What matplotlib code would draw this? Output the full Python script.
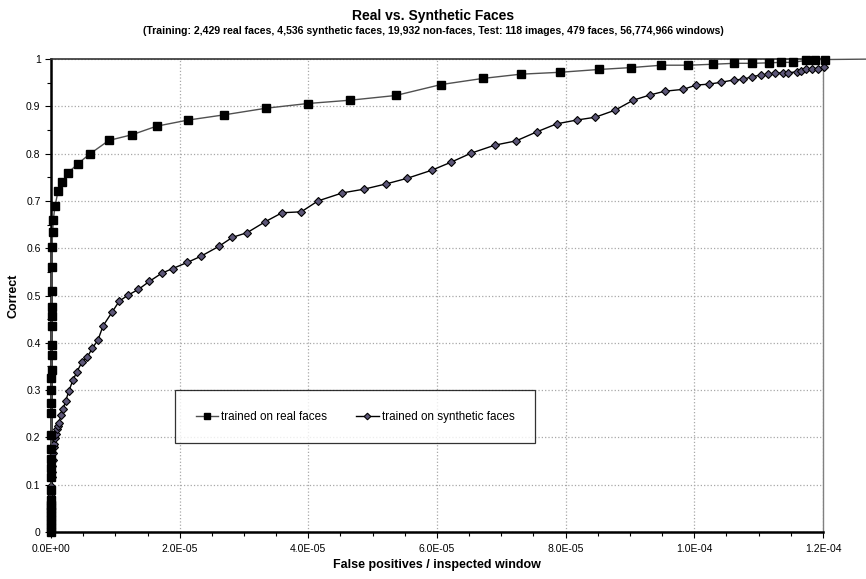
import numpy as np
import matplotlib
matplotlib.use('Agg')
from matplotlib import pyplot as plt
from matplotlib.ticker import MultipleLocator, FuncFormatter

plt.rcParams['font.family'] = ['Liberation Sans', 'DejaVu Sans']

# false positives per window (units of 1e-5) and detection rate
real_fp = [0.0, 0.0, 0.0, 0.0, 0.0, 0.0, 0.0, 0.0, 0.0, 0.0, 0.002, 0.002, 0.003,
           0.004, 0.005, 0.006, 0.006, 0.007, 0.007, 0.008, 0.008, 0.009, 0.01, 0.01,
           0.01, 0.012, 0.012, 0.014, 0.026, 0.036, 0.062, 0.11, 0.17, 0.27, 0.42,
           0.61, 0.90, 1.26, 1.64, 2.13, 2.69, 3.34, 3.99, 4.65, 5.36, 6.06, 6.71,
           7.30, 7.91, 8.52, 9.02, 9.49, 9.90, 10.29, 10.62, 10.90, 11.16, 11.34,
           11.53, 11.73, 11.88, 12.03, 12.8]
real_rate = [0.0, 0.008, 0.017, 0.025, 0.033, 0.042, 0.05, 0.058, 0.068, 0.089,
             0.117, 0.135, 0.154, 0.175, 0.205, 0.252, 0.273, 0.300, 0.325, 0.342,
             0.374, 0.395, 0.436, 0.457, 0.476, 0.51, 0.56, 0.603, 0.635, 0.66,
             0.689, 0.721, 0.739, 0.76, 0.779, 0.80, 0.828, 0.84, 0.858, 0.871,
             0.882, 0.896, 0.906, 0.913, 0.923, 0.946, 0.959, 0.968, 0.972, 0.978,
             0.982, 0.987, 0.987, 0.989, 0.991, 0.991, 0.992, 0.993, 0.993, 0.997,
             0.999, 0.999, 1.0]

synth_fp = [0.0, 0.0, 0.0, 0.0, 0.0, 0.0, 0.001, 0.001, 0.001, 0.002, 0.002, 0.004,
            0.006, 0.011, 0.016, 0.02, 0.026, 0.036, 0.047, 0.051, 0.067, 0.078,
            0.098, 0.11, 0.124, 0.155, 0.19, 0.23, 0.28, 0.34, 0.40, 0.48, 0.56,
            0.64, 0.73, 0.81, 0.95, 1.06, 1.20, 1.36, 1.53, 1.72, 1.89, 2.12, 2.33,
            2.61, 2.82, 3.05, 3.33, 3.59, 3.89, 4.15, 4.53, 4.87, 5.21, 5.54, 5.92,
            6.22, 6.53, 6.90, 7.23, 7.55, 7.86, 8.17, 8.46, 8.77, 9.05, 9.31, 9.54,
            9.83, 10.03, 10.23, 10.42, 10.62, 10.76, 10.90, 11.03, 11.15, 11.26,
            11.38, 11.46, 11.59, 11.66, 11.74, 11.83, 11.92, 12.01]
synth_rate = [0.003, 0.01, 0.017, 0.024, 0.031, 0.038, 0.045, 0.052, 0.06, 0.068,
              0.077, 0.085, 0.097, 0.117, 0.127, 0.14, 0.152, 0.166, 0.179, 0.186,
              0.198, 0.207, 0.217, 0.225, 0.231, 0.247, 0.261, 0.278, 0.299, 0.321,
              0.338, 0.359, 0.369, 0.388, 0.406, 0.436, 0.465, 0.488, 0.501, 0.513,
              0.530, 0.547, 0.557, 0.570, 0.583, 0.604, 0.623, 0.633, 0.656, 0.675,
              0.677, 0.700, 0.717, 0.725, 0.736, 0.748, 0.765, 0.782, 0.801, 0.818,
              0.827, 0.846, 0.863, 0.871, 0.877, 0.892, 0.913, 0.924, 0.932, 0.936,
              0.945, 0.947, 0.951, 0.956, 0.957, 0.963, 0.966, 0.968, 0.970, 0.971,
              0.971, 0.973, 0.975, 0.978, 0.980, 0.980, 0.983]

real_fp = np.array(real_fp) * 1e-5
synth_fp = np.array(synth_fp) * 1e-5

fig = plt.figure(figsize=(8.66, 5.79), dpi=100)
ax = fig.add_axes([0.0589, 0.0812, 0.8914, 0.8168])

ax.plot(synth_fp, synth_rate, color='black', lw=1.0, marker='D', ms=4.2,
        mfc='#5c5677', mec='black', mew=0.8, label='trained on synthetic faces',
        zorder=3, clip_on=False)
ax.plot(real_fp, real_rate, color='#505050', lw=1.0, marker='s', ms=5.8,
        mfc='black', mec='black', markevery=list(range(len(real_fp) - 1)),
        label='trained on real faces', zorder=4, clip_on=False)

ax.set_xlim(0, 1.2e-4)
ax.set_ylim(0, 1)
ax.xaxis.set_major_locator(MultipleLocator(2e-5))
ax.xaxis.set_minor_locator(MultipleLocator(5e-6))
ax.yaxis.set_major_locator(MultipleLocator(0.1))
ax.yaxis.set_minor_locator(MultipleLocator(0.05))
ax.xaxis.set_major_formatter(FuncFormatter(lambda v, p: '%.1E' % v))
ax.yaxis.set_major_formatter(FuncFormatter(lambda v, p: '%g' % round(v, 1)))
ax.tick_params(which='both', direction='out', labelsize=7.5, colors='black')
ax.tick_params(which='major', length=4, width=0.8)
ax.tick_params(which='minor', length=3, width=0.8)
ax.tick_params(axis='x', pad=5)

ax.grid(True, which='major', color='#a8a8a8', ls=':', lw=0.9)
ax.set_axisbelow(True)
ax.spines['left'].set_linewidth(1.8)
ax.spines['bottom'].set_linewidth(1.8)
ax.spines['top'].set_color('#333333')
ax.spines['top'].set_linewidth(1.2)
ax.spines['right'].set_color('#808080')
ax.spines['right'].set_linewidth(1.0)

ax.set_xlabel('False positives / inspected window', fontsize=9, fontweight='bold', labelpad=3)
ax.set_ylabel('Correct', fontsize=9, fontweight='bold', labelpad=5)

fig.text(0.5, 0.973, 'Real vs. Synthetic Faces', ha='center', va='center',
         fontsize=10, fontweight='bold')
fig.text(0.5, 0.946, '(Training: 2,429 real faces, 4,536 synthetic faces, 19,932 non-faces, '
         'Test: 118 images, 479 faces, 56,774,966 windows)', ha='center', va='center',
         fontsize=7.6, fontweight='bold')

handles, labels = ax.get_legend_handles_labels()
leg = ax.legend(handles[::-1], labels[::-1], loc='center', bbox_to_anchor=(0.394, 0.244),
                ncol=2, fontsize=8.4, frameon=True, fancybox=False, edgecolor='black',
                handlelength=1.9, handletextpad=0.3, columnspacing=2.5,
                borderpad=1.75, borderaxespad=0, markerscale=0.8)
leg.get_frame().set_linewidth(0.9)

plt.savefig('out.png', dpi=100)
